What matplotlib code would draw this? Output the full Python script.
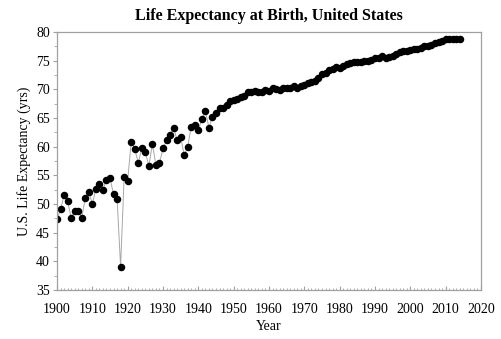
import matplotlib
matplotlib.use("Agg")
import matplotlib.pyplot as plt
from matplotlib.ticker import MultipleLocator

years = list(range(1900, 2015))
life_expectancy = [
    47.3, 49.1, 51.5, 50.5, 47.6, 48.7, 48.7, 47.6, 51.1, 52.1,
    50.0, 52.6, 53.5, 52.5, 54.2, 54.5, 51.7, 50.9, 39.1, 54.7,
    54.1, 60.8, 59.6, 57.2, 59.7, 59.0, 56.7, 60.4, 56.8, 57.1,
    59.7, 61.1, 62.1, 63.3, 61.1, 61.7, 58.5, 60.0, 63.5, 63.7,
    62.9, 64.8, 66.2, 63.3, 65.2, 65.9, 66.7, 66.8, 67.2, 68.0,
    68.2, 68.4, 68.6, 68.8, 69.6, 69.6, 69.7, 69.5, 69.6, 69.9,
    69.7, 70.2, 70.1, 69.9, 70.2, 70.2, 70.2, 70.5, 70.2, 70.5,
    70.8, 71.1, 71.2, 71.4, 72.0, 72.6, 72.9, 73.3, 73.5, 73.9,
    73.7, 74.1, 74.5, 74.6, 74.7, 74.7, 74.7, 74.9, 74.9, 75.1,
    75.4, 75.5, 75.8, 75.5, 75.7, 75.8, 76.1, 76.5, 76.7, 76.7,
    76.8, 77.0, 77.0, 77.2, 77.6, 77.6, 77.8, 78.1, 78.2, 78.5,
    78.7, 78.7, 78.8, 78.8, 78.8,
]

title = "Life Expectancy at Birth, United States"
x_label = "Year"
y_label = "U.S. Life Expectancy (yrs)"

plt.rcParams["font.family"] = ["Liberation Serif", "DejaVu Serif"]

fig = plt.figure(figsize=(5.01, 3.39), dpi=100)
ax = fig.add_axes([0.1138, 0.1445, 0.8462, 0.7611])

# thin connecting line under the yearly markers
ax.plot(years, life_expectancy, color="#a8a8a8", linewidth=0.7, zorder=1)
ax.plot(years, life_expectancy, linestyle="none", marker="o",
        markersize=4.4, color="black", zorder=2)

ax.set_xlim(1900, 2020)
ax.set_ylim(35, 80)
ax.xaxis.set_major_locator(MultipleLocator(10))
ax.xaxis.set_minor_locator(MultipleLocator(1))
ax.yaxis.set_major_locator(MultipleLocator(5))
ax.yaxis.set_minor_locator(MultipleLocator(2.5))

for s in ax.spines.values():
    s.set_color("#a0a0a0")
    s.set_linewidth(0.9)

ax.tick_params(axis="x", which="major", direction="in", length=3,
               color="#a0a0a0", labelsize=10, pad=9)
ax.tick_params(axis="x", which="minor", direction="in", length=1.5,
               color="#a0a0a0")
ax.tick_params(axis="y", which="major", direction="out", length=3,
               color="#a0a0a0", labelsize=10, pad=2)
ax.tick_params(axis="y", which="minor", direction="out", length=2,
               color="#a0a0a0")

ax.set_title(title, fontsize=11.5, fontweight="bold", pad=9)
ax.set_xlabel(x_label, fontsize=10, labelpad=3)
ax.set_ylabel(y_label, fontsize=10, labelpad=4)

fig.savefig("out.png", dpi=100)
